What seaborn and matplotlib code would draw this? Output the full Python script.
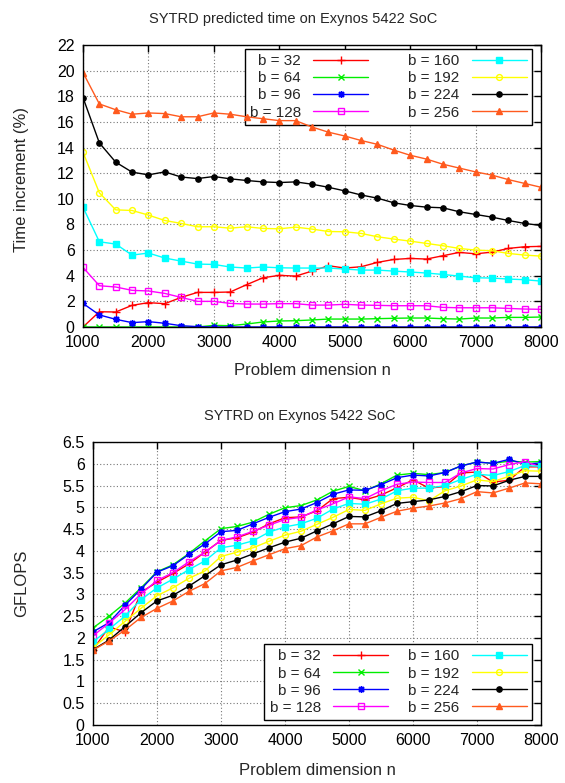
import matplotlib
matplotlib.use("Agg")
import matplotlib.pyplot as plt
from matplotlib.ticker import FuncFormatter, MultipleLocator
import seaborn as sns
import pandas as pd

# ---------------- data ----------------
n_vals = [1000, 1250, 1500, 1750, 2000, 2250, 2500, 2750, 3000, 3250, 3500,
          3750, 4000, 4250, 4500, 4750, 5000, 5250, 5500, 5750, 6000, 6250,
          6500, 6750, 7000, 7250, 7500, 7750, 8000]
block_labels = ["b = 32", "b = 64", "b = 96", "b = 128",
                "b = 160", "b = 192", "b = 224", "b = 256"]

# Top panel: predicted time increment (%)
inc_b32 = [0.0, 1.19, 1.17, 1.69, 1.90, 1.82, 2.31, 2.70, 2.70, 2.73, 3.30, 3.84, 4.03, 3.97,
           4.36, 4.78, 4.60, 4.70, 5.04, 5.27, 5.35, 5.30, 5.56, 5.82, 5.71, 5.84, 6.13, 6.26, 6.29]
inc_b64 = [0.0, 0.0, 0.0, 0.0, 0.0, 0.0, 0.0, 0.0, 0.13, 0.10, 0.23, 0.39, 0.47, 0.49,
           0.55, 0.62, 0.62, 0.62, 0.65, 0.68, 0.70, 0.70, 0.65, 0.62, 0.70, 0.70, 0.75, 0.75, 0.78]
inc_b96 = [1.84, 0.94, 0.60, 0.34, 0.42, 0.29, 0.10, 0.03, 0.0, 0.0, 0.0, 0.0, 0.0, 0.0,
           0.0, 0.0, 0.0, 0.0, 0.0, 0.0, 0.0, 0.0, 0.0, 0.0, 0.0, 0.0, 0.0, 0.0, 0.0]
inc_b128 = [4.65, 3.22, 3.12, 2.86, 2.81, 2.62, 2.31, 2.00, 2.00, 1.84, 1.79, 1.79, 1.82, 1.82,
            1.71, 1.71, 1.77, 1.71, 1.69, 1.66, 1.66, 1.66, 1.53, 1.50, 1.50, 1.50, 1.45, 1.40, 1.38]
inc_b160 = [9.35, 6.65, 6.47, 5.61, 5.77, 5.38, 5.14, 4.91, 4.88, 4.68, 4.60, 4.68, 4.62, 4.60,
            4.60, 4.60, 4.52, 4.44, 4.44, 4.36, 4.29, 4.21, 4.10, 3.97, 3.84, 3.82, 3.74, 3.69, 3.58]
inc_b192 = [13.64, 10.47, 9.14, 9.09, 8.73, 8.31, 8.08, 7.82, 7.82, 7.71, 7.82, 7.69, 7.66, 7.79,
            7.64, 7.45, 7.43, 7.30, 7.04, 6.86, 6.70, 6.52, 6.34, 6.13, 6.00, 5.95, 5.74, 5.61, 5.53]
inc_b224 = [17.90, 14.36, 12.86, 12.08, 11.87, 12.10, 11.70, 11.58, 11.74, 11.56, 11.43, 11.32,
            11.27, 11.32, 11.14, 10.90, 10.62, 10.30, 10.05, 9.69, 9.48, 9.35, 9.30, 8.99, 8.78,
            8.57, 8.31, 8.08, 7.92]
inc_b256 = [19.85, 17.40, 16.95, 16.60, 16.70, 16.65, 16.40, 16.40, 16.70, 16.60, 16.40, 16.25,
            16.10, 16.10, 15.60, 15.20, 14.90, 14.55, 14.25, 13.80, 13.40, 13.10, 12.70, 12.40,
            12.10, 11.85, 11.50, 11.20, 10.90]

# Bottom panel: GFLOPS
gf_b32 = [1.73, 2.25, 2.14, 3.05, 3.28, 3.48, 3.70, 3.97, 4.24, 4.30, 4.43, 4.62, 4.76, 4.78,
          4.92, 5.20, 5.23, 5.17, 5.28, 5.45, 5.63, 5.44, 5.48, 5.79, 5.81, 5.58, 5.62, 5.93, 5.93]
gf_b64 = [2.23, 2.50, 2.80, 3.15, 3.52, 3.68, 3.94, 4.23, 4.51, 4.56, 4.66, 4.84, 4.99, 5.04,
          5.17, 5.37, 5.48, 5.38, 5.54, 5.74, 5.78, 5.75, 5.80, 5.95, 6.04, 6.01, 6.06, 6.04, 6.05]
gf_b96 = [2.14, 2.35, 2.75, 3.12, 3.51, 3.66, 3.92, 4.16, 4.44, 4.47, 4.62, 4.77, 4.90, 4.96,
          5.11, 5.30, 5.40, 5.39, 5.52, 5.68, 5.74, 5.72, 5.80, 5.95, 6.04, 6.01, 6.10, 5.99, 6.02]
gf_b128 = [2.05, 2.34, 2.65, 3.01, 3.32, 3.50, 3.75, 3.97, 4.24, 4.32, 4.45, 4.59, 4.72, 4.77,
           4.94, 5.08, 5.24, 5.20, 5.38, 5.53, 5.58, 5.57, 5.57, 5.79, 5.89, 5.88, 5.98, 6.05, 5.93]
gf_b160 = [1.91, 2.20, 2.50, 2.88, 3.15, 3.35, 3.57, 3.77, 4.07, 4.13, 4.23, 4.43, 4.55, 4.62,
           4.75, 4.96, 5.09, 5.07, 5.19, 5.38, 5.44, 5.44, 5.50, 5.64, 5.76, 5.73, 5.82, 5.96, 5.94]
gf_b192 = [1.78, 2.07, 2.38, 2.68, 2.97, 3.15, 3.37, 3.54, 3.87, 3.97, 4.07, 4.22, 4.36, 4.45,
           4.61, 4.77, 4.95, 4.93, 5.08, 5.21, 5.23, 5.15, 5.38, 5.49, 5.63, 5.59, 5.71, 5.84, 5.83]
gf_b224 = [1.73, 1.95, 2.26, 2.58, 2.85, 2.98, 3.19, 3.43, 3.68, 3.79, 3.93, 4.07, 4.20, 4.29,
           4.46, 4.62, 4.79, 4.78, 4.92, 5.09, 5.13, 5.17, 5.25, 5.36, 5.50, 5.49, 5.62, 5.71, 5.71]
gf_b256 = [1.72, 1.93, 2.18, 2.47, 2.68, 2.85, 3.07, 3.25, 3.54, 3.62, 3.77, 3.91, 4.05, 4.12,
           4.32, 4.46, 4.62, 4.62, 4.77, 4.91, 4.98, 5.03, 5.10, 5.20, 5.36, 5.33, 5.44, 5.56, 5.54]

inc_series = [inc_b32, inc_b64, inc_b96, inc_b128, inc_b160, inc_b192, inc_b224, inc_b256]
gf_series = [gf_b32, gf_b64, gf_b96, gf_b128, gf_b160, gf_b192, gf_b224, gf_b256]

# ---------------- style ----------------
colors = ["#ff0000", "#00ee00", "#0000ff", "#ff00ff",
          "#00ffff", "#ffff00", "#000000", "#ff5a1e"]
markers = ["+", "x", (8, 2, 0), "s", "s", "o", "o", "^"]
filled = [True, True, True, False, True, False, True, True]
msizes = [6, 4.5, 5, 4.2, 4.2, 4.2, 3.8, 4.2]

sns.set_theme(style="white")
plt.rcParams["font.family"] = ["Liberation Sans", "DejaVu Sans"]
plt.rcParams["font.size"] = 10

fig = plt.figure(figsize=(5.65, 7.83), dpi=100)
W, H = 565, 783
ax1 = fig.add_axes([83 / W, 1 - 327 / H, (541 - 83) / W, (327 - 45) / H])
ax2 = fig.add_axes([93 / W, 1 - 725 / H, (541 - 93) / W, (725 - 442) / H])


def draw(ax, series):
    for vals, lab, c, m, f, ms in zip(series, block_labels, colors, markers, filled, msizes):
        df = pd.DataFrame({"n": n_vals, "v": vals})
        sns.lineplot(data=df, x="n", y="v", ax=ax, color=c, marker=m,
                     markersize=ms, linewidth=1.0, label=lab,
                     markerfacecolor=(c if f else "none"),
                     markeredgecolor=c, markeredgewidth=1.0,
                     legend=False, zorder=3)


def style(ax, ymax, ystep, ylabel, title, ylab_xy, xlab_y, title_x):
    ax.set_xlim(1000, 8000)
    ax.set_ylim(0, ymax)
    ax.xaxis.set_major_locator(MultipleLocator(1000))
    ax.yaxis.set_major_locator(MultipleLocator(ystep))
    ax.yaxis.set_major_formatter(FuncFormatter(lambda v, p: "%g" % v))
    ax.grid(True, color="#777777", linestyle=(0, (1, 2)), linewidth=0.8)
    ax.set_axisbelow(True)
    for s in ax.spines.values():
        s.set_color("black")
        s.set_linewidth(1.0)
        s.set_zorder(4)
    ax.tick_params(direction="in", top=True, right=True, length=5, width=1,
                   labelsize=11.5, colors="black", pad=6)
    ax.set_xlabel("Problem dimension n", fontsize=12)
    ax.set_ylabel(ylabel, fontsize=12)
    ax.yaxis.set_label_coords(*ylab_xy)
    ax.xaxis.set_label_coords(0.5, xlab_y)
    ax.set_title(title, fontsize=10.5, pad=16, x=title_x)


draw(ax1, inc_series)
draw(ax2, gf_series)
style(ax1, 22, 2, "Time increment (%)", "SYTRD predicted time on Exynos 5422 SoC",
      ((29 - 83) / 458, (327 - 180) / 282), (327 - 363) / 282, (293 - 83) / 458)
style(ax2, 6.5, 0.5, "GFLOPS", "SYTRD on Exynos 5422 SoC",
      ((29 - 93) / 448, 0.5), (725 - 763) / 283, (300 - 93) / 448)

for ax, loc, anchor, colsp in [(ax1, "upper right", (532 / W, 1 - 49 / H), 2.6),
                               (ax2, "lower right", (532 / W, 1 - 720 / H), 1.3)]:
    h, l = ax.get_legend_handles_labels()
    leg = ax.legend(h, l, ncol=2, loc=loc, bbox_to_anchor=anchor,
                    bbox_transform=fig.transFigure, markerfirst=False,
                    fontsize=11, frameon=True, fancybox=False, framealpha=1,
                    facecolor="white", edgecolor="black", borderaxespad=0,
                    handlelength=3.6, labelspacing=0.2, columnspacing=colsp,
                    handletextpad=0.8, borderpad=0.35)
    leg.get_frame().set_linewidth(1.0)
    leg.set_zorder(1)

fig.savefig("out.png", dpi=100)
